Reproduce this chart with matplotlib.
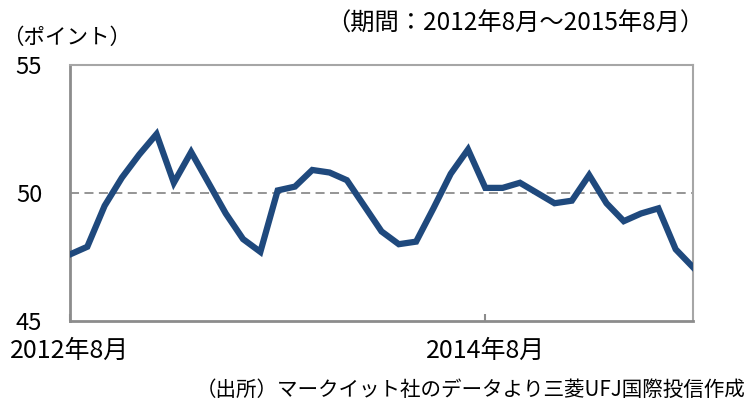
import matplotlib.pyplot as plt
import pandas as pd

plt.rcParams['font.family'] = ['Noto Sans CJK JP', 'DejaVu Sans']

# 月次データ（2012年8月～2015年8月）
meses = pd.period_range("2012-08", "2015-08", freq="M")
valores = [47.6, 47.9, 49.5, 50.6, 51.5, 52.3, 50.4, 51.6, 50.4, 49.2,
           48.2, 47.7, 50.1, 50.25, 50.9, 50.8, 50.5, 49.5, 48.5, 48.0,
           48.1, 49.4, 50.75, 51.7, 50.2, 50.2, 50.4, 50.0, 49.6, 49.7,
           50.7, 49.6, 48.9, 49.2, 49.4, 47.8, 47.1]
ticks_x = ["2012-08", "2014-08"]
etiquetas_x = ["2012年8月", "2014年8月"]
ticks_y = [45, 50, 55]

fig = plt.figure(figsize=(7.46, 4.09), dpi=100)
ax = fig.add_axes([70 / 746, (409 - 321) / 409, 623 / 746, 256 / 409])

x = list(range(len(meses)))
ax.plot(x, valores, color="#1f497d", linewidth=4.5, solid_joinstyle="miter", zorder=3)
ax.axhline(50, color="#8c8c8c", linewidth=1.3, linestyle=(0, (5, 3)), zorder=2)

ax.set_xlim(0, len(meses) - 1)
ax.set_ylim(45, 55)

pos = [list(meses.strftime("%Y-%m")).index(t) for t in ticks_x]
ax.set_xticks(pos)
ax.set_xticklabels(etiquetas_x, fontsize=18)
ax.tick_params(axis="x", direction="in", length=5, width=1.5, color="#8c8c8c", pad=12)
ax.set_yticks(ticks_y)
ax.set_yticklabels([str(v) for v in ticks_y], fontsize=17)
ax.tick_params(axis="y", length=0, pad=20)

for lado in ["left", "bottom"]:
    ax.spines[lado].set_color("#8c8c8c")
    ax.spines[lado].set_linewidth(2)
for lado in ["top", "right"]:
    ax.spines[lado].set_color("#a6a6a6")
    ax.spines[lado].set_linewidth(1.5)

fig.text(2 / 746, 1 - 38 / 409, "（ポイント）", fontsize=15.5, ha="left", va="center")
fig.text(704 / 746, 1 - 24 / 409, "（期間：2012年8月～2015年8月）", fontsize=17.5, ha="right", va="center")
fig.text(746 / 746, 1 - 390 / 409, "（出所）マークイット社のデータより三菱UFJ国際投信作成",
         fontsize=14.8, ha="right", va="center")

fig.savefig("out.png", dpi=100)
